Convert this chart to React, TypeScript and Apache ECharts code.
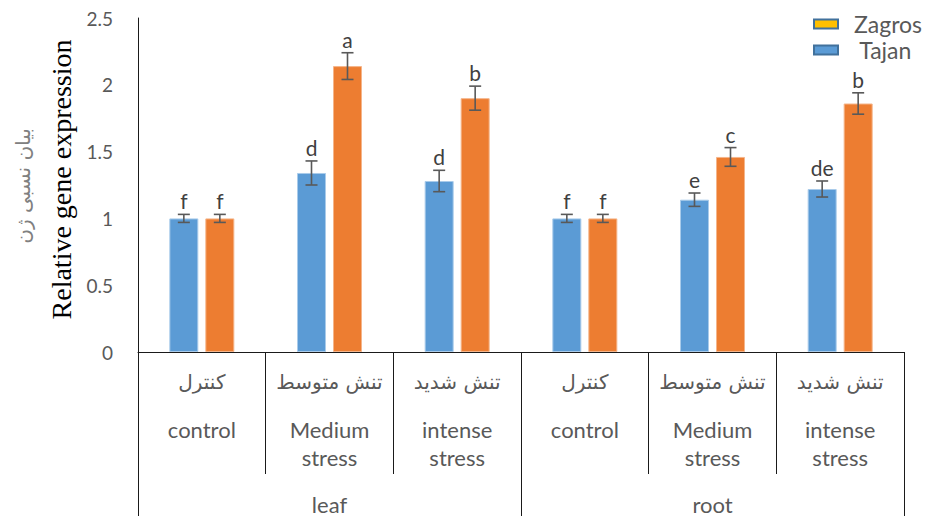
import React, { useEffect, useRef } from "react";
import * as echarts from "echarts";

const categoriesFa = ["کنترل", "تنش متوسط", "تنش شدید", "کنترل", "تنش متوسط", "تنش شدید"];
const categoriesEn = ["control", "Medium\nstress", "intense\nstress", "control", "Medium\nstress", "intense\nstress"];
const groups = ["leaf", "root"];
const tajanValues = [1.0, 1.34, 1.28, 1.0, 1.14, 1.22];
const tajanErrors = [0.03, 0.09, 0.08, 0.03, 0.05, 0.06];
const tajanLetters = ["f", "d", "d", "f", "e", "de"];
const zagrosValues = [1.0, 2.14, 1.9, 1.0, 1.46, 1.86];
const zagrosErrors = [0.03, 0.1, 0.09, 0.03, 0.07, 0.08];
const zagrosLetters = ["f", "a", "b", "f", "c", "b"];
const yTicks = [0, 0.5, 1, 1.5, 2, 2.5];

const BLUE = "#5B9BD5";
const ORANGE = "#ED7D31";
const LINE = "#1a1a1a";
const GRAY = "#595959";
const SANS = "Lato, 'Open Sans', sans-serif";
const ARABIC = "'DejaVu Sans', sans-serif";
const BAR_WIDTH = 29;
const BAR_GAP_PX = 7;

function errorSeries(values: number[], errors: number[], letters: string[], dir: number) {
  const offset = dir * (BAR_WIDTH + BAR_GAP_PX) / 2;
  return {
    type: "custom",
    xAxisIndex: 0,
    yAxisIndex: 0,
    z: 5,
    data: values.map((v, i) => [i, v, errors[i]]),
    renderItem: (params: any, api: any) => {
      const idx = api.value(0);
      const v = api.value(1);
      const e = api.value(2);
      const top = api.coord([idx, v + e]);
      const bot = api.coord([idx, v - e]);
      const x = top[0] + offset;
      const st = { stroke: GRAY, lineWidth: 1.6 };
      return {
        type: "group",
        children: [
          { type: "line", shape: { x1: x, y1: top[1], x2: x, y2: bot[1] }, style: st },
          { type: "line", shape: { x1: x - 6, y1: top[1], x2: x + 6, y2: top[1] }, style: st },
          { type: "line", shape: { x1: x - 6, y1: bot[1], x2: x + 6, y2: bot[1] }, style: st },
          {
            type: "text",
            x: x,
            y: top[1] - 3,
            style: {
              text: letters[params.dataIndex],
              fill: "#404040",
              fontSize: 21,
              fontFamily: SANS,
              align: "center",
              verticalAlign: "bottom",
            },
          },
        ],
      };
    },
  };
}

function legendBox(name: string, label: string, color: string, top: number, pad: number[]) {
  return {
    orient: "vertical",
    left: 813,
    top,
    padding: 0,
    itemWidth: 24,
    itemHeight: 9,
    icon: "rect",
    data: [{ name, itemStyle: { color, borderColor: "#41719C", borderWidth: 2 } }],
    formatter: () => label,
    textStyle: { fontSize: 23, lineHeight: 24, color: GRAY, fontFamily: SANS, padding: pad },
  };
}

export default function App() {
  const ref = useRef<HTMLDivElement>(null);
  useEffect(() => {
    if (!ref.current) return;
    const chart = echarts.init(ref.current, undefined, { renderer: "svg" });
    chart.setOption({
      animation: false,
      backgroundColor: "#fff",
      grid: { left: 138, right: 22, top: 18, bottom: 164, containLabel: false },
      legend: [
        legendBox("Zagros", "Zagros", "#FFC000", 9, [0, 0, 6, 11]),
        legendBox("Tajan", " Tajan", BLUE, 33, [10, 0, 0, 11]),
      ],
      xAxis: [
        {
          type: "category",
          position: "bottom",
          data: categoriesFa,
          axisLine: { show: true, lineStyle: { color: LINE, width: 1 } },
          axisTick: { show: true, interval: 0, length: 122, lineStyle: { color: LINE, width: 1 } },
          axisLabel: {
            interval: 0,
            margin: 18,
            fontSize: 20,
            lineHeight: 24,
            color: GRAY,
            fontFamily: ARABIC,
          },
        },
        {
          type: "category",
          position: "bottom",
          data: categoriesEn,
          axisLine: { show: false },
          axisTick: { show: false },
          axisLabel: {
            interval: 0,
            margin: 63,
            fontSize: 22,
            lineHeight: 28,
            color: GRAY,
            fontFamily: SANS,
          },
        },
        {
          type: "category",
          position: "bottom",
          data: groups,
          axisLine: { show: false },
          axisTick: { show: true, interval: 0, length: 164, lineStyle: { color: LINE, width: 1 } },
          axisLabel: {
            interval: 0,
            margin: 139,
            fontSize: 22,
            lineHeight: 26,
            color: GRAY,
            fontFamily: SANS,
          },
        },
      ],
      yAxis: {
        type: "value",
        min: yTicks[0],
        max: yTicks[yTicks.length - 1],
        interval: 0.5,
        splitLine: { show: false },
        axisLine: { show: true, lineStyle: { color: LINE, width: 1 } },
        axisTick: { show: false },
        axisLabel: {
          margin: 25,
          fontSize: 19,
          color: GRAY,
          fontFamily: SANS,
          formatter: (v: number) => String(v),
        },
        name: "Relative gene expression",
        nameLocation: "middle",
        nameGap: 58,
        nameTextStyle: {
          fontFamily: "'Liberation Serif', 'Times New Roman', serif",
          fontSize: 28,
          color: "#000",
          padding: [0, 0, 0, 11],
        },
      },
      graphic: [
        {
          type: "text",
          x: 23,
          y: 186,
          rotation: Math.PI / 2,
          style: {
            text: "بیان نسبی ژن",
            fill: "#808080",
            fontSize: 20,
            fontFamily: ARABIC,
            align: "center",
            verticalAlign: "middle",
          },
        },
      ],
      series: [
        {
          name: "Tajan",
          type: "bar",
          xAxisIndex: 0,
          data: tajanValues,
          barWidth: BAR_WIDTH,
          barGap: (BAR_GAP_PX / BAR_WIDTH) * 100 + "%",
          itemStyle: { color: BLUE, borderColor: "#A9CBEA", borderWidth: 1 },
        },
        {
          name: "Zagros",
          type: "bar",
          xAxisIndex: 0,
          data: zagrosValues,
          barWidth: BAR_WIDTH,
          barGap: (BAR_GAP_PX / BAR_WIDTH) * 100 + "%",
          itemStyle: { color: ORANGE, borderColor: "#F5B58A", borderWidth: 1 },
        },
        errorSeries(tajanValues, tajanErrors, tajanLetters, -1),
        errorSeries(zagrosValues, zagrosErrors, zagrosLetters, 1),
      ],
    });
    return () => chart.dispose();
  }, []);
  return <div ref={ref} style={{ position: "fixed", left: 0, top: 0, width: 926, height: 517 }} />;
}
